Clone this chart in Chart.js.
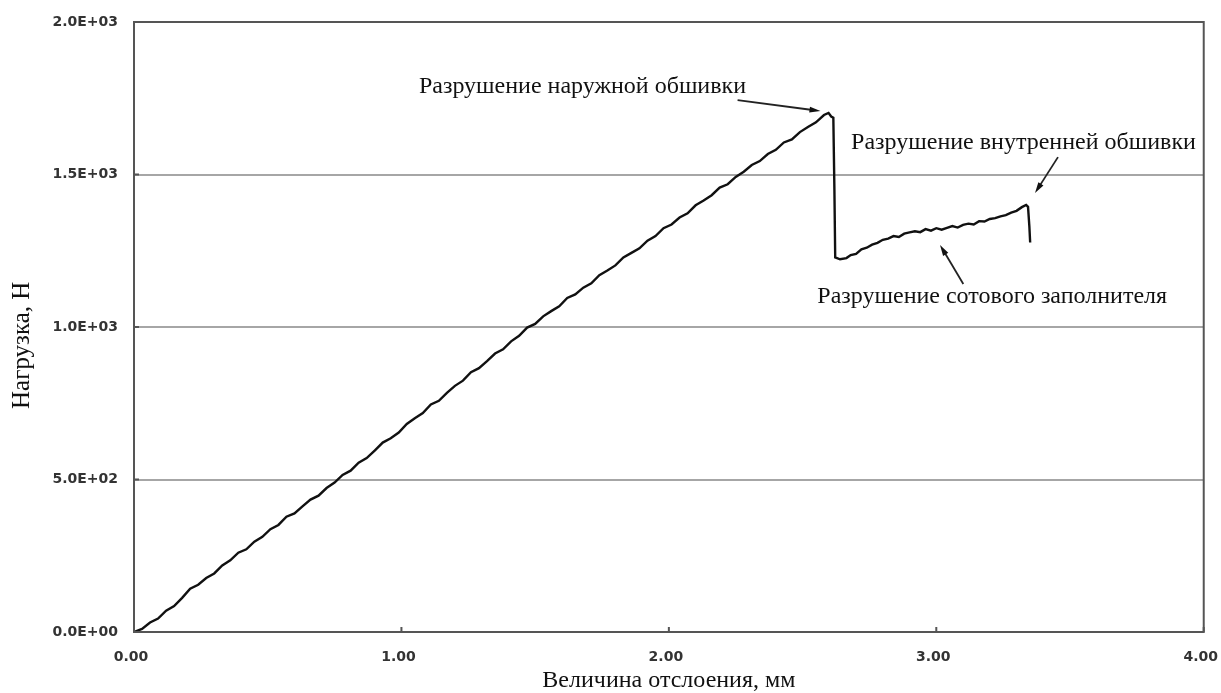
<!DOCTYPE html>
<html>
<head>
<meta charset="utf-8">
<title>Нагрузка — величина отслоения</title>
<script src="https://cdn.jsdelivr.net/npm/chart.js@4.4.1/dist/chart.umd.min.js"></script>
<style>
  html, body { margin: 0; padding: 0; background: #fff; }
  #wrap { width: 1221px; height: 693px; position: relative; }
</style>
</head>
<body>
<div id="wrap"><canvas id="graf"></canvas></div>
<script>
// Кривая нагрузка / отслоение
const otslX = [
  0.00, 0.03, 0.06, 0.09, 0.12, 0.15, 0.18, 0.21, 0.24, 0.27,
  0.30, 0.33, 0.36, 0.39, 0.42, 0.45, 0.48, 0.51, 0.54, 0.57,
  0.60, 0.63, 0.66, 0.69, 0.72, 0.75, 0.78, 0.81, 0.84, 0.87,
  0.90, 0.93, 0.96, 0.99, 1.02, 1.05, 1.08, 1.11, 1.14, 1.17,
  1.20, 1.23, 1.26, 1.29, 1.32, 1.35, 1.38, 1.41, 1.44, 1.47,
  1.50, 1.53, 1.56, 1.59, 1.62, 1.65, 1.68, 1.71, 1.74, 1.77,
  1.80, 1.83, 1.86, 1.89, 1.92, 1.95, 1.98, 2.01, 2.04, 2.07,
  2.10, 2.13, 2.16, 2.19, 2.22, 2.25, 2.28, 2.31, 2.34, 2.37,
  2.40, 2.43, 2.46, 2.49, 2.52, 2.55, 2.58, 2.597, 2.607, 2.615,
  2.619, 2.622, 2.64, 2.664, 2.68, 2.70, 2.72, 2.74, 2.76, 2.78,
  2.80, 2.82, 2.84, 2.86, 2.88, 2.90, 2.92, 2.94, 2.96, 2.98,
  3.00, 3.02, 3.04, 3.06, 3.08, 3.10, 3.12, 3.14, 3.16, 3.18,
  3.20, 3.22, 3.24, 3.26, 3.28, 3.30, 3.32, 3.336, 3.343, 3.348,
  3.351
];
const nagruzka = [
  0, 10, 31, 44, 70, 85, 112, 142, 155, 177,
  192, 218, 235, 260, 271, 296, 312, 337, 351, 378,
  389, 412, 434, 447, 472, 490, 515, 529, 555, 570,
  595, 621, 635, 654, 682, 701, 718, 746, 758, 784,
  807, 824, 852, 865, 888, 913, 927, 953, 971, 998,
  1010, 1035, 1052, 1068, 1095, 1107, 1129, 1143, 1170, 1185,
  1202, 1228, 1243, 1258, 1283, 1298, 1324, 1336, 1359, 1373,
  1399, 1415, 1432, 1457, 1468, 1492, 1509, 1531, 1544, 1567,
  1581, 1605, 1615, 1639, 1656, 1671, 1695, 1702, 1690, 1686,
  1450, 1228, 1222, 1226, 1236, 1240, 1255, 1260, 1270, 1276,
  1286, 1290, 1298, 1295, 1306, 1310, 1314, 1311, 1321, 1316,
  1324, 1319, 1325, 1331, 1326, 1335, 1339, 1336, 1347, 1346,
  1354, 1357, 1363, 1367, 1375, 1381, 1393, 1400, 1394, 1330,
  1277
];

// Подписи делений
const xTickLabels = ["0.00", "1.00", "2.00", "3.00", "4.00"];
const yTickLabels = ["0.0E+00", "5.0E+02", "1.0E+03", "1.5E+03", "2.0E+03"];

// Выноски: текст, положение текста и стрелки в единицах осей
const vynoski = [
  { text: "Разрушение наружной обшивки",   tx: 1.677, ty: 1787, from: [2.257, 1744], to: [2.567, 1708] },
  { text: "Разрушение внутренней обшивки", tx: 3.326, ty: 1603, from: [3.455, 1557], to: [3.369, 1439] },
  { text: "Разрушение сотового заполнителя", tx: 3.209, ty: 1098, from: [3.101, 1141], to: [3.014, 1269] }
];

const SERIF = "'Liberation Serif', 'Times New Roman', serif";
const TICKFONT = { family: "'DejaVu Sans', sans-serif", size: 14, weight: "bold" };

// ===== Плагин: рамка, внутренние штрихи, подпись оси Y и выноски =====
const ramkaPlugin = {
  id: "ramka",
  afterDatasetsDraw(chart) {
    const ctx = chart.ctx;
    const a = chart.chartArea;
    const sx = chart.scales.x, sy = chart.scales.y;
    ctx.save();

    // рамка области построения
    ctx.strokeStyle = "#555";
    ctx.lineWidth = 2;
    ctx.strokeRect(a.left, a.top, a.right - a.left, a.bottom - a.top);

    // короткие штрихи внутрь
    ctx.beginPath();
    [0, 1, 2, 3, 4].forEach(v => {
      const px = sx.getPixelForValue(v);
      ctx.moveTo(px, a.bottom); ctx.lineTo(px, a.bottom - 5);
    });
    [0, 500, 1000, 1500, 2000].forEach(v => {
      const py = sy.getPixelForValue(v);
      ctx.moveTo(a.left, py); ctx.lineTo(a.left + 5, py);
    });
    ctx.stroke();

    // подпись оси Y (в оригинале смещена ниже центра)
    ctx.fillStyle = "#111";
    ctx.font = "25px " + SERIF;
    ctx.textAlign = "center";
    ctx.textBaseline = "middle";
    ctx.save();
    ctx.translate(22, sy.getPixelForValue(940));
    ctx.rotate(-Math.PI / 2);
    ctx.fillText("Нагрузка, Н", 0, 0);
    ctx.restore();

    // выноски
    ctx.strokeStyle = "#222";
    ctx.font = "24px " + SERIF;
    vynoski.forEach(v => {
      ctx.fillText(v.text, sx.getPixelForValue(v.tx), sy.getPixelForValue(v.ty));

      const x1 = sx.getPixelForValue(v.from[0]), y1 = sy.getPixelForValue(v.from[1]);
      const x2 = sx.getPixelForValue(v.to[0]), y2 = sy.getPixelForValue(v.to[1]);
      const ang = Math.atan2(y2 - y1, x2 - x1);
      ctx.lineWidth = 1.8;
      ctx.beginPath();
      ctx.moveTo(x1, y1);
      ctx.lineTo(x2 - 8 * Math.cos(ang), y2 - 8 * Math.sin(ang));
      ctx.stroke();
      // наконечник
      ctx.beginPath();
      ctx.moveTo(x2, y2);
      ctx.lineTo(x2 - 11 * Math.cos(ang) + 3 * Math.sin(ang), y2 - 11 * Math.sin(ang) - 3 * Math.cos(ang));
      ctx.lineTo(x2 - 11 * Math.cos(ang) - 3 * Math.sin(ang), y2 - 11 * Math.sin(ang) + 3 * Math.cos(ang));
      ctx.closePath();
      ctx.fill();
    });
    ctx.restore();
  }
};

const tochki = otslX.map((x, i) => ({ x: x, y: nagruzka[i] }));

new Chart(document.getElementById("graf"), {
  type: "line",
  data: {
    datasets: [{
      data: tochki,
      borderColor: "#111",
      borderWidth: 2.4,
      pointRadius: 0,
      tension: 0,
      fill: false
    }]
  },
  options: {
    responsive: true,
    maintainAspectRatio: false,
    animation: false,
    layout: { padding: { left: 0, right: 0, top: 22, bottom: 0 } },
    plugins: { legend: { display: false }, tooltip: { enabled: false } },
    scales: {
      x: {
        type: "linear",
        min: 0, max: 4,
        // невидимые штрихи задают отступ подписей
        grid: { display: true, drawOnChartArea: false, drawTicks: true, tickLength: 17, tickColor: "rgba(0,0,0,0)" },
        border: { display: true, color: "#555", width: 2 },
        ticks: {
          stepSize: 1,
          padding: 0,
          labelOffset: -3,
          color: "#333",
          font: TICKFONT,
          maxRotation: 0,
          callback: (v, i) => xTickLabels[i]
        },
        title: {
          display: true,
          text: "Величина отслоения, мм",
          color: "#111",
          font: { family: SERIF, size: 24, lineHeight: 1 },
          padding: { top: 0, bottom: 0 }
        },
        afterFit: s => { s.height = 61; }
      },
      y: {
        min: 0, max: 2000,
        grid: {
          color: "#a6a6a6",
          lineWidth: 2,
          drawTicks: true,
          tickLength: 16,
          tickColor: "rgba(0,0,0,0)"
        },
        border: { display: true, color: "#555", width: 2 },
        ticks: {
          stepSize: 500,
          padding: 0,
          color: "#333",
          font: TICKFONT,
          callback: (v, i) => yTickLabels[i]
        },
        title: { display: false },
        afterFit: s => { s.width = 134; }
      }
    }
  },
  plugins: [ramkaPlugin]
});
</script>
</body>
</html>
